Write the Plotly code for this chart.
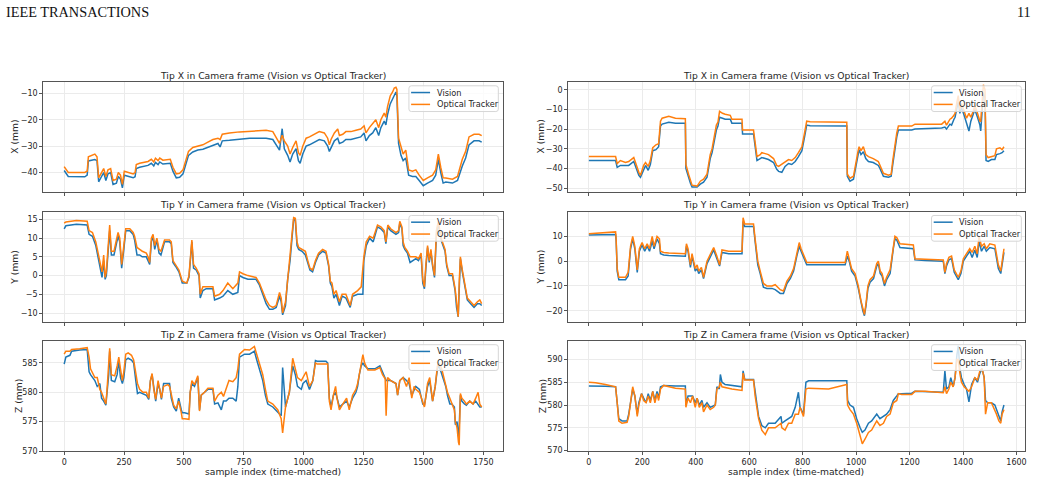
import plotly.graph_objects as go

# ---------------- data ----------------
# Left column: sequence 1
L_X_IDX = [0,17,86,96,101,128,137,144,156,165,174,183,194,204,218,226,235,243,251,267,
           288,296,301,315,336,350,364,374,381,392,399,412,443,454,468,482,496,507,519,537,
           558,579,600,621,642,651,660,690,732,774,815,843,871,885,899,910,919,933,943,954,
           968,978,985,996,1010,1024,1044,1065,1086,1100,1107,1114,1128,1142,1149,1163,1176,1197,1218,1238,
           1252,1260,1274,1288,1301,1313,1322,1336,1343,1350,1361,1371,1378,1385,1389,1396,1406,1415,1426,1438,
           1454,1468,1482,1499,1517,1538,1551,1562,1572,1582,1593,1621,1642,1649,1662,1676,1690,1711,1732,1743]
L_X_OPTICAL = [-37.75,-40,-40,-39.5,-34,-33,-34,-42,-40,-38.5,-41.5,-39,-38.5,-43,-42.5,-40,-41,-44.5,-39.5,-40,
               -40.5,-40,-37,-36.5,-36,-35.8,-35,-36,-34.6,-35.5,-34.5,-35.3,-35,-38,-40.5,-40.3,-39,-36,-32,-30.5,
               -30,-29.5,-28.5,-27.5,-27,-27.5,-25.5,-25,-24.6,-24.3,-24,-24,-24.5,-27,-29,-25.9,-28,-30,-33,-30.5,
               -28,-32.5,-33.5,-30,-27,-26.5,-25.5,-24.5,-25,-27,-29.5,-27.5,-25,-23.5,-26,-25.5,-24.5,-24.5,-24,-23.5,
               -22.3,-25,-23,-21.5,-20,-23,-20,-17.5,-19,-15,-11,-9.5,-8,-7.7,-8.5,-27,-30.5,-33,-31.5,-39,
               -39.5,-39,-41,-43,-42,-41,-39,-33,-38,-42,-42.1,-42.5,-41.5,-39.5,-35,-32,-26.5,-25.5,-25.5,-26]
L_X_VISION = [-39.25,-41.5,-41.6,-41,-35.6,-35.1,-35.5,-43.5,-41.5,-40,-43,-40.5,-40,-44.5,-44,-41.5,-42.5,-45.8,-41,-41.5,
              -42,-41.6,-38.5,-38,-37.5,-37.3,-36.5,-37.5,-36.2,-37,-36,-36.8,-36.5,-39.5,-42,-41.8,-40.5,-37.5,-33.5,-32.2,
              -31.5,-31.2,-30.5,-29.5,-29,-30.3,-28,-27.8,-27.5,-27,-27,-27,-27.5,-29.5,-31.5,-23.4,-31,-33.5,-36,-33,
              -31,-35.5,-36.5,-33,-30,-29.5,-28.5,-27.5,-28,-30,-32,-30.5,-28,-27,-29,-28.5,-27.5,-27.5,-27,-26.5,
              -25,-28,-26,-25,-23,-26,-23,-20.5,-22,-18,-14,-12,-10.5,-9.5,-11,-29,-33.5,-35.5,-34.5,-41,
              -41.5,-41.5,-43,-45,-44,-43,-41,-35,-40,-44,-43.6,-44,-43,-41,-37.5,-34.5,-29.5,-28,-28,-28.5]

L_Y_IDX = [0,7,51,96,104,118,132,142,151,158,165,171,176,183,190,197,208,218,225,232,
           240,249,257,274,288,294,304,315,326,343,350,357,364,371,378,387,396,404,419,440,
           447,454,465,479,493,512,521,529,533,540,551,563,568,579,593,621,628,649,663,683,
           704,725,732,746,767,801,815,829,843,857,871,885,899,906,912,924,933,943,951,958,
           965,972,979,993,1007,1017,1026,1037,1049,1062,1079,1093,1104,1111,1118,1126,1135,1149,1160,1176,
           1194,1204,1225,1240,1247,1251,1261,1275,1290,1299,1308,1322,1336,1343,1351,1363,1385,1396,1401,1410,
           1415,1422,1433,1444,1454,1468,1479,1490,1497,1504,1510,1517,1524,1531,1538,1546,1554,1562,1568,1576,
           1590,1597,1607,1621,1632,1638,1645,1649,1654,1662,1674,1683,1697,1711,1725,1735,1743]
L_Y_OPTICAL = [14,14.3,14.7,14.5,12,11.5,9,6,3,1,5.5,-0.5,1,8,13.5,6.5,6.5,9.5,11.5,10,
               3,8,12.5,12.5,11.5,10.5,7.5,7,6.5,6,5,3.5,10,11,8,10,7,6.5,9.5,9.5,
               9,4,3,1.5,-1.5,-2,0,8.5,9.5,3,2,0.5,-5,-3,-3,-3,-5.5,-5,-4,-2,
               -3.5,-2,1,0.5,0,-0.5,-2,-4.5,-6.5,-8,-8.5,-8,-4.5,-6,-10,-7,0,5.5,11,15.5,
               15.3,9,7.5,7,6.5,4,2,1.5,4,6,7,6.5,3,-1.5,-2,-5,-4,-7,-5,-5,
               -8,-5,-4,-3,2,5,9,10.5,10,11.5,13.5,13,12,9,13.5,12.5,11.5,12,14.5,13,
               9,7.5,6.5,5,5,5,4.5,6,-1,-3,3,8,4,7,3,0,12,14.5,12,9.5,
               7,3,0.5,0.5,-3.5,-8,-11,-2,5,1.5,-3,-6,-7,-8,-7,-6.5,-7.5]
L_Y_VISION = [12.5,13.3,13.7,13.5,11,10.5,8,5,1.5,-0.5,4,-1,0,7,12,5.5,5.5,8.5,10.5,9,
              2,7,12,12,11,9.5,5.5,5.5,5,5,4,3,9,10.5,7,9.5,6,5.5,9,9,
              8.5,3.5,2.5,1,-2,-2,-0.5,7.5,9,2,1.5,0,-6,-4,-3.5,-3.5,-6.5,-6,-5.5,-4,
              -5,-4.5,0,-0.5,-1,-1,-2.5,-5,-7.5,-9,-9,-8.5,-5.5,-7,-10.5,-8,-1,4,10,15,
              14.8,8,7,6.5,5.5,3,1.5,1,3.5,5.5,6.5,6,2.5,-2,-3,-6,-5,-8,-5.5,-6,
              -8.5,-5.5,-5,-5,-5,4,8,10,9,11,13,12.5,11.5,8.5,13,12,11,11.5,14,12.5,
              8,7,6,3.5,4,4.5,4,5.5,-2,-3.5,2,7.5,3.5,6.5,2.5,-0.5,11,14,11.5,9,
              6.5,2.5,0,0,-4,-8.5,-11,-3,4.5,1,-3.5,-6.5,-7.5,-8.5,-7.5,-7.5,-8]

L_Z_IDX = [0,7,24,31,65,96,104,110,128,138,149,156,165,174,179,186,190,197,211,221,
           228,235,243,249,257,267,281,290,299,306,315,329,343,353,360,367,374,382,392,399,
           406,415,433,440,447,457,468,478,489,493,503,521,526,533,544,558,565,572,586,600,
           621,628,642,656,665,676,688,704,718,725,732,753,774,794,804,815,829,840,850,871,
           892,906,912,924,940,954,965,974,990,997,1010,1024,1038,1049,1056,1093,1100,1107,1114,1124,
           1133,1139,1149,1163,1179,1190,1204,1218,1225,1232,1240,1247,1254,1268,1297,1318,1329,1340,1344,1350,
           1363,1385,1392,1401,1415,1429,1440,1451,1461,1468,1483,1497,1504,1517,1526,1538,1549,1558,1565,1576,
           1586,1593,1600,1610,1618,1629,1633,1640,1646,1649,1654,1660,1671,1679,1693,1707,1718,1728,1735,1743]
L_Z_VISION = [584.8,586,586.3,587,587.2,587.3,583.5,583,582,581,581.5,579,578.5,577.8,580,583,587,582,581.8,583,
              585.5,582.5,581.5,582.5,585.5,585.8,585.5,585,582,579.8,580,579.8,579.5,578.8,582,583,580.5,578.5,581.5,580.5,
              578.8,581.5,581.5,581.5,579,577.5,576.8,579,577,576.5,576.5,576.3,580,581.5,581,582.5,577,579.5,580,580.5,
              580.5,578,578.2,577,578.5,578.5,579,579,578.5,581,586,586.5,586.5,587,585.5,584,582,579.5,578,577.5,
              576.5,576,584.2,577.5,580,584.5,583,581,580.5,581.5,582,580.5,582,585.4,585.3,585.3,585,579,577.5,579.5,
              580,579,577.5,578,578.5,577.5,579,580,581,583,584.5,585,584.5,584,584,584.5,583.5,582.5,582,582,
              582,581.5,579.5,582,582.5,582,581.5,579.5,580.5,581,580.5,578,577.8,581,582,578.5,581,584,584.5,583,
              582,581,579.5,578,578,577.5,574.5,575,572.5,574,579.5,578.5,578,577.8,578.5,578,578.5,578,577.5,577.5]
L_Z_OPTICAL = [586.5,587,587,587.3,587.4,587.6,586,584,582.5,582.5,580.5,580,579,578,580.5,585,587.5,583,582.8,584.5,
               586,584,582,583.5,586.5,586.7,586.3,585.5,583.5,581.5,580.5,580,580,579,582,583.2,580.5,578.8,582,580.5,
               579,581,581.3,581,579.5,577.8,577.2,578.5,576.5,575.5,575.5,575.4,580,582,581.3,582.8,576.8,579.5,580,580.7,
               580.7,578.5,579.5,580,579.3,580.5,582,581.8,582.5,584,586.5,587.3,587.2,587.8,586.5,585,583,580.5,578.5,578,
               577,575.5,573.1,577.5,580,585.8,584,582.5,582,582.5,583.5,581,582,585,584.8,584.8,584.8,578.5,577,579.5,
               581,579,577,578,579,577,579.5,580.5,581.5,583,584.5,586.4,585,583.8,583.8,584.2,583,582.3,576,582.5,
               582,581.5,579.5,582,582.5,581,582.5,579,581,580.5,580,578.5,577.5,581.5,582.5,578.5,581,584.5,585,584,
               582.5,581.5,580,579,578,577,575,574,571.5,571,579.8,579,578.5,578,578.5,578,579,580,578,577.5]

# Right column: sequence 2
R_X_IDX = [0,100,106,118,137,149,168,174,187,193,205,212,222,230,239,251,261,268,274,299,
           324,361,363,373,380,386,405,417,429,442,448,454,461,471,477,483,489,500,510,529,
           535,573,575,616,622,629,641,647,660,672,691,703,710,722,734,747,759,772,784,797,
           807,815,828,897,965,967,977,990,998,1006,1011,1018,1027,1036,1046,1064,1083,1089,1102,1121,
           1131,1137,1145,1152,1158,1208,1220,1320,1332,1338,1351,1357,1366,1370,1376,1382,1388,1394,1404,1413,
           1422,1429,1438,1444,1454,1463,1466,1471,1476,1482,1486,1494,1506,1519,1525,1538,1546,1553]
R_X_OPTICAL = [-34,-34,-37.5,-36,-37,-36.5,-34.5,-37,-42,-43.5,-38.5,-37,-39,-36,-29.5,-28,-27.5,-16,-14.5,-13.5,
               -14.5,-14.7,-38,-43,-46,-48.5,-49,-46.5,-45.5,-43,-38,-33,-30,-22,-18,-16.5,-11,-12,-12.5,-13,
               -15,-15,-20.5,-20.5,-27,-34,-33,-32,-32.5,-33,-35,-38.5,-39,-38,-37,-35.5,-36,-34.5,-32,-29,
               -22,-16,-16.3,-16.5,-16.5,-43,-45,-44,-37,-32,-29,-31,-29,-33,-34,-35,-36.5,-38.5,-42.5,-43.5,
               -43,-36,-27,-22,-18.5,-18.5,-17.5,-17.5,-16,-18,-15,-14.5,-13,-12,-7,-3,-10,-7,-11,-14.5,
               -12,-14,-11,-8,-12,-16,-16,-5,2.5,0,-33,-34.5,-34,-33.5,-30,-29.5,-30.5,-29]
R_X_VISION = [-36,-36,-39.5,-38.5,-38.5,-38.5,-36.5,-39,-43.5,-44.5,-40.5,-38.5,-41,-38,-31,-30.5,-29,-18.5,-17.5,-16.5,
              -17,-17,-40,-45,-47.5,-49.5,-49.5,-48,-47,-44.5,-40,-35,-32,-25,-20.5,-18.5,-14,-14.5,-15,-15,
              -17,-17,-22.5,-22.5,-29,-36,-35,-34.5,-35,-35.5,-37,-40.5,-41.5,-42,-39,-37.5,-38,-36.5,-34,-31,
              -24,-18,-18.3,-18.5,-18.5,-44,-46.5,-45.5,-39,-34,-30.5,-33,-31.5,-35,-36.5,-37,-38.5,-40,-44,-44.5,
              -44,-38,-29,-24,-20.5,-20.5,-20,-19.5,-19,-20,-17.5,-18,-15,-14,-10,-6,-12,-9,-13,-16.5,
              -21,-16,-13,-10,-14,-18,-21,-8,-2,-4,-36,-36.5,-35.5,-35.5,-33,-32.5,-32,-31]

R_Y_IDX = [0,100,102,106,112,137,147,156,164,172,181,189,199,209,218,227,237,244,255,264,
           268,280,299,361,365,371,380,386,392,398,405,411,421,429,442,454,467,479,489,498,
           523,573,577,583,616,622,632,641,653,666,685,697,716,728,741,754,766,778,787,794,
           803,815,834,897,959,967,974,983,996,1008,1018,1025,1031,1037,1044,1052,1065,1077,1083,1090,
           1097,1106,1114,1127,1139,1145,1152,1164,1214,1220,1258,1326,1332,1338,1347,1357,1367,1382,1392,1401,
           1413,1425,1434,1444,1453,1460,1469,1479,1487,1500,1519,1525,1532,1541,1546,1553]
R_Y_OPTICAL = [11,11.8,9,-3,-6.5,-6.5,-4.5,6,10,6,-3.5,5,7.5,5,7,5,10,6,10,9,
               4,3.5,3.3,3,7,5,-1.5,3,0,-3,-1.5,-4,-2.5,-6.5,0,2.5,5.5,2,-1.5,4.5,
               4,4,17.5,15,15,9,0,-4,-9,-10,-10,-9.5,-11.5,-12,-8,-6,-3,3,7.5,5,
               2.5,-0.5,-0.5,-0.5,-0.5,4,1,-3,-5,-10,-16,-19,-21.5,-17,-10,-7.5,-6,-1,0,-4,
               -5,-9,-6.5,-3.5,6,10,9.5,7,6.5,1,0.8,0.5,-4.5,-1,1.5,2,-3.5,-6.5,-4,1,
               3,5,3.5,6,3,10,6,7,5,7,6.5,2,-1.5,-4,0,5]
R_Y_VISION = [10.5,10.7,8.5,-4,-7.5,-7.5,-6,5,9,5,-4.5,4,6.5,4,6,4,8,5,9,7,
              3,2.5,2.3,2,6,4,-2.5,2,-1,-4,-3,-5,-3.5,-7,-1,1.5,4.5,1,-2,3.5,
              3,3,16,14,14,8,-1.5,-5,-10.5,-11,-11,-11.5,-13,-13,-9,-7,-4,2,6,4,
              1.5,-1.5,-1.5,-1.5,-1.5,2,0,-4,-6,-11,-17,-20,-22,-18,-11,-8.5,-7,-2,-1,-5,
              -6,-10,-7.5,-5,5,9,8.5,5.5,5,0.5,0.3,0,-5,-2,0.5,1,-4.5,-7.5,-5,0,
              2,4,1.5,4.5,1.5,8,4,6,4,5.5,5,1,-3,-5,-1,3.5]

R_Z_IDX = [0,25,62,100,106,112,124,143,149,156,164,172,181,187,197,205,214,222,230,239,
           247,255,261,268,280,324,361,363,371,380,388,398,405,413,423,429,442,454,467,473,
           479,488,492,498,510,535,573,577,583,616,622,629,635,647,660,672,697,719,722,734,
           747,759,772,784,790,803,812,822,897,965,968,977,990,1002,1015,1023,1033,1046,1058,1077,
           1089,1102,1114,1127,1139,1152,1158,1170,1208,1220,1258,1326,1332,1338,1347,1354,1363,1370,1377,1382,
           1388,1394,1404,1413,1422,1432,1444,1454,1463,1471,1479,1484,1492,1506,1519,1525,1534,1541,1546,1553]
R_Z_OPTICAL = [585,584.9,584.5,584,580.5,576.5,576,576.2,577.5,580.5,584,582,577.5,580,582.5,581,580.5,582,580.5,583,
               580.5,582.5,581,583.5,584.3,583.7,583.5,579.5,581.5,580.5,582,579.5,581.5,579.5,580.5,578.5,580,579,579.5,580,
               583.5,584,585,584,583.8,583.5,583.2,587,585.5,585.5,582,579,577,574.5,573.5,575,575,576,575,574.5,
               576,576,578,578,579.5,577.5,583.5,583.7,583.5,584.5,580,579,578,576,573,571.5,572.5,574,574.5,576.5,
               575.5,576,577.5,578,580.5,581,582.5,582.3,582.3,583,583,582.7,584,582.5,583.5,585,584,586,590,590,
               587,585,584,583.5,583,584,586,585.5,587.5,588,586,578,580.5,580.5,579,578,576.5,576,578,579]
R_Z_VISION = [584.2,584.2,584.1,584,581,577,576.5,576.5,578,581,583.5,582,578,580.5,582.5,581.5,580.5,582.5,581,583,
              581,583,581.5,584,584.3,584.2,584.2,580,582,582,582,580.5,581.5,580,581,579.5,580.5,579.5,579.8,580,
              584,583.5,586.7,585,584.5,584.3,584,587.5,585.6,585.6,583,580,577.5,575.5,575,576,576,577.5,576,576.5,
              577,577.5,579.5,582.8,579.5,578,585,585.3,585.3,585.3,581,580,579.5,577,575,574,574.5,576,576.5,578,
              577,577.5,578,579,581,582,582.5,582.5,582.6,583,582.9,582.8,587.5,583.5,584,586,584,586,591,593,
              588,586,584.5,583.5,580.7,584.5,586,585,587,588,586,581,580.5,580.5,580,579,577.5,576.5,578.5,580]

TITLES = ["Tip X in Camera frame (Vision vs Optical Tracker)",
          "Tip Y in Camera frame (Vision vs Optical Tracker)",
          "Tip Z in Camera frame (Vision vs Optical Tracker)"]
Y_LABELS = ["X (mm)", "Y (mm)", "Z (mm)"]
X_LABEL = "sample index (time-matched)"
SERIES_NAMES = ["Vision", "Optical Tracker"]

# ---------------- styling / layout ----------------
W, H = 1040, 485
BLUE, ORANGE = "#1f77b4", "#ff7f0e"
SERIES_COLORS = [BLUE, ORANGE]
FONT = "DejaVu Sans"
TXT = "#262626"

def px_x(p):
    return p / W

def px_y(p):
    return 1 - p / H

cols = {
    "L": dict(x0=43.3, x1=503.7, xrange=[-87.5, 1830.8], dtick=250, leg_x0=409.7, leg_x1=499.3, ylab_x=[15, 15, 18]),
    "R": dict(x0=569.3, x1=1026.7, xrange=[-77.3, 1630.7], dtick=200, leg_x0=933.3, leg_x1=1023.3, ylab_x=[541.7, 541.7, 543.3]),
}
rows = [dict(y0=82.7, y1=193.8, title_y=76.0, leg_y=86.7),
        dict(y0=214.0, y1=325.0, title_y=207.0, leg_y=217.7),
        dict(y0=344.3, y1=456.0, title_y=337.5, leg_y=348.3)]

panels = [
    ("L", 0, L_X_IDX, L_X_VISION, L_X_OPTICAL, [-47.3, -5.65], 10),
    ("L", 1, L_Y_IDX, L_Y_VISION, L_Y_OPTICAL, [-12.3, 17.03], 5),
    ("L", 2, L_Z_IDX, L_Z_VISION, L_Z_OPTICAL, [569.95, 588.78], 5),
    ("R", 0, R_X_IDX, R_X_VISION, R_X_OPTICAL, [-51.9, 4.0], 10),
    ("R", 1, R_Y_IDX, R_Y_VISION, R_Y_OPTICAL, [-24.4, 19.9], 10),
    ("R", 2, R_Z_IDX, R_Z_VISION, R_Z_OPTICAL, [569.85, 594.1], 5),
]

fig = go.Figure()
layout = dict(
    width=W, height=H, margin=dict(l=0, r=0, t=0, b=0),
    paper_bgcolor="white", plot_bgcolor="white",
    font=dict(family=FONT, size=8, color=TXT),
    showlegend=False,
)
annotations = []
shapes = []


def rounded_box(x0, y0, x1, y1, r=2.5):
    """SVG path (paper coords) for a rounded rectangle given pixel coords."""
    X = lambda p: f"{px_x(p):.6f}"
    Y = lambda p: f"{px_y(p):.6f}"
    return (f"M {X(x0 + r)},{Y(y0)} L {X(x1 - r)},{Y(y0)} Q {X(x1)},{Y(y0)} {X(x1)},{Y(y0 + r)} "
            f"L {X(x1)},{Y(y1 - r)} Q {X(x1)},{Y(y1)} {X(x1 - r)},{Y(y1)} "
            f"L {X(x0 + r)},{Y(y1)} Q {X(x0)},{Y(y1)} {X(x0)},{Y(y1 - r)} "
            f"L {X(x0)},{Y(y0 + r)} Q {X(x0)},{Y(y0)} {X(x0 + r)},{Y(y0)} Z")


for k, (c, r, idx, vis, opt, yr, ydt) in enumerate(panels, start=1):
    col, row = cols[c], rows[r]
    assert len(idx) == len(vis) == len(opt)
    xa = "x" if k == 1 else f"x{k}"
    ya = "y" if k == 1 else f"y{k}"
    for name, vals, color in ((SERIES_NAMES[0], vis, BLUE), (SERIES_NAMES[1], opt, ORANGE)):
        fig.add_trace(go.Scatter(x=idx, y=vals, mode="lines", name=name,
                                 line=dict(color=color, width=1.5),
                                 xaxis=xa, yaxis=ya))
    axcommon = dict(showline=True, linecolor="#555555", linewidth=1, mirror=True,
                    showgrid=True, gridcolor="#ebebeb", gridwidth=0.8, zeroline=False,
                    ticks="outside", ticklen=3, tickwidth=0.8, tickcolor="#555555",
                    tickfont=dict(family=FONT, size=8, color=TXT))
    xkey = "xaxis" if k == 1 else f"xaxis{k}"
    ykey = "yaxis" if k == 1 else f"yaxis{k}"
    layout[xkey] = dict(axcommon, domain=[px_x(col["x0"]), px_x(col["x1"])],
                        range=col["xrange"], tick0=0, dtick=col["dtick"],
                        anchor=ya, showticklabels=(r == 2))
    layout[ykey] = dict(axcommon, domain=[px_y(row["y1"]), px_y(row["y0"])],
                        range=yr, tick0=0, dtick=ydt, anchor=xa)

    # legend (upper right, matplotlib style)
    lx0, lx1 = col["leg_x0"], col["leg_x1"]
    ly0 = row["leg_y"]
    ly1 = ly0 + 26
    shapes.append(dict(type="path", path=rounded_box(lx0, ly0, lx1, ly1), xref="paper", yref="paper",
                       line=dict(color="#d6d6d6", width=1), fillcolor="rgba(255,255,255,0.8)", layer="above"))
    for j, (name, color) in enumerate(zip(SERIES_NAMES, SERIES_COLORS)):
        yy = ly0 + 6.8 + 12 * j
        shapes.append(dict(type="line", xref="paper", yref="paper",
                           x0=px_x(lx0 + 2.2), x1=px_x(lx0 + 21.2), y0=px_y(yy), y1=px_y(yy),
                           line=dict(color=color, width=1.5), layer="above"))
        annotations.append(dict(text=name, x=px_x(lx0 + 25.8), y=px_y(yy), xref="paper", yref="paper",
                                xanchor="left", yanchor="middle", showarrow=False,
                                font=dict(family=FONT, size=8.2, color=TXT)))

    xc = (col["x0"] + col["x1"]) / 2
    annotations.append(dict(text=TITLES[r], x=px_x(xc), y=px_y(row["title_y"]), xref="paper", yref="paper",
                            xanchor="center", yanchor="middle", showarrow=False,
                            font=dict(family=FONT, size=9.2, color=TXT)))
    yc = (row["y0"] + row["y1"]) / 2
    annotations.append(dict(text=Y_LABELS[r], x=px_x(col["ylab_x"][r]), y=px_y(yc), xref="paper", yref="paper",
                            xanchor="center", yanchor="middle", textangle=-90, showarrow=False,
                            font=dict(family=FONT, size=9.2, color=TXT)))
    if r == 2:
        annotations.append(dict(text=X_LABEL, x=px_x(xc), y=px_y(476), xref="paper", yref="paper",
                                xanchor="center", yanchor="middle", showarrow=False,
                                font=dict(family=FONT, size=9.2, color=TXT)))

annotations.append(dict(text="IEEE TRANSACTIONS", x=px_x(4), y=px_y(12), xref="paper", yref="paper",
                        xanchor="left", yanchor="middle", showarrow=False,
                        font=dict(family="Liberation Serif", size=14.3, color="#111111")))
annotations.append(dict(text="11", x=px_x(1035), y=px_y(12), xref="paper", yref="paper",
                        xanchor="right", yanchor="middle", showarrow=False,
                        font=dict(family="Liberation Serif", size=14.3, color="#111111")))
layout["annotations"] = annotations
layout["shapes"] = shapes
fig.update_layout(**layout)
fig.write_html("out.html")
